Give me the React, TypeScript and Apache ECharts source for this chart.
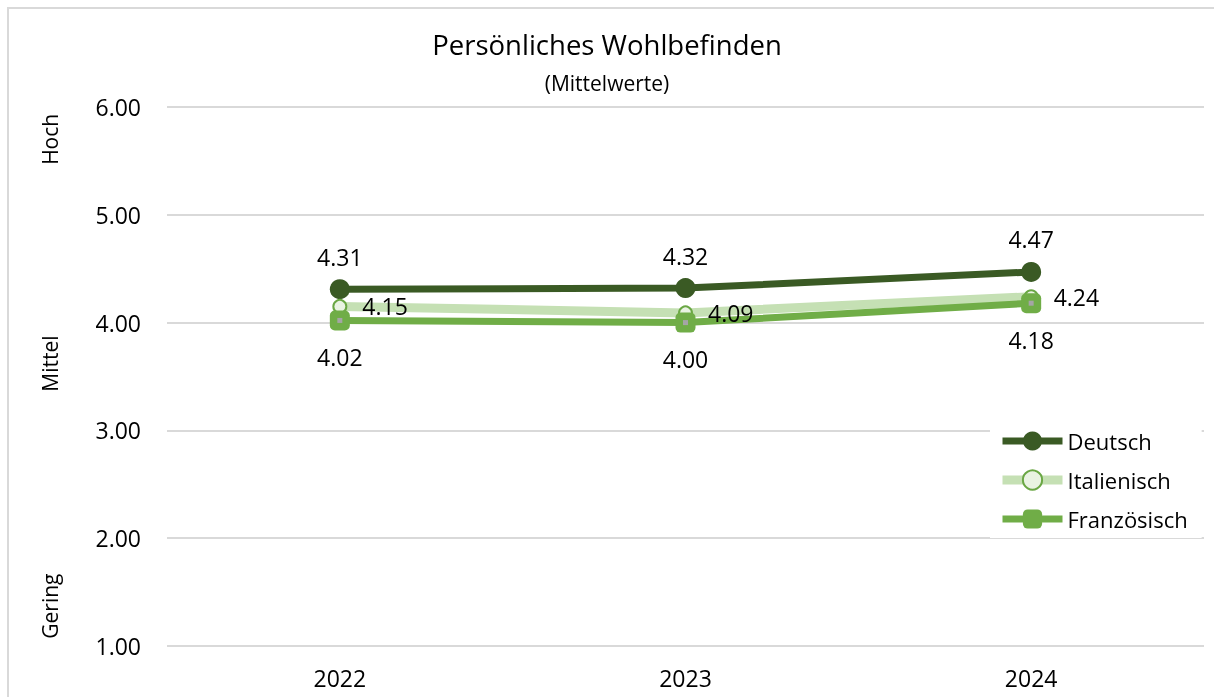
import React, { useEffect, useRef } from "react";
import * as echarts from "echarts";

const years = ["2022", "2023", "2024"];
const deutsch = [4.31, 4.32, 4.47];
const italienisch = [4.15, 4.09, 4.24];
const franzoesisch = [4.02, 4.0, 4.18];
const sideLabels = [
  { text: "Hoch", value: 5.7 },
  { text: "Mittel", value: 3.62 },
  { text: "Gering", value: 1.37 },
];

const FONT = "'Open Sans', sans-serif";

export default function App() {
  const ref = useRef<HTMLDivElement>(null);
  useEffect(() => {
    if (!ref.current) return;
    const chart = echarts.init(ref.current, null, { renderer: "svg" });
    const gridTop = 107;
    const gridBottomY = 646;
    const yMin = 1;
    const yMax = 6;
    const yToPx = (v: number) => gridBottomY - ((v - yMin) / (yMax - yMin)) * (gridBottomY - gridTop);
    const labelStyle = {
      fontSize: 23,
      color: "#000",
      fontFamily: FONT,
      formatter: (p: any) => p.value.toFixed(2),
    };
    chart.setOption({
      animation: false,
      textStyle: { fontFamily: FONT },
      graphic: [
        {
          type: "line",
          shape: { x1: 8, y1: 7, x2: 8, y2: 697 },
          style: { stroke: "#d9d9d9", lineWidth: 2 },
        },
        {
          type: "line",
          shape: { x1: 7, y1: 8, x2: 1214, y2: 8 },
          style: { stroke: "#d9d9d9", lineWidth: 2 },
        },
        {
          type: "text",
          left: "center",
          top: 30,
          style: { text: "Persönliches Wohlbefinden", font: `27.5px ${FONT}`, fill: "#000" },
        },
        {
          type: "text",
          left: "center",
          top: 72,
          style: { text: "(Mittelwerte)", font: `21px ${FONT}`, fill: "#000" },
        },
        ...sideLabels.map((s) => ({
          type: "text",
          x: 50,
          y: yToPx(s.value),
          rotation: Math.PI / 2,
          style: {
            text: s.text,
            font: `21px ${FONT}`,
            fill: "#000",
            align: "center",
            verticalAlign: "middle",
          },
        })),
      ],
      grid: { left: 167, right: 10, top: gridTop, bottom: 697 - gridBottomY, containLabel: false },
      legend: {
        orient: "vertical",
        left: 990,
        top: 422,
        padding: [8, 14, 8, 8],
        backgroundColor: "#fff",
        itemWidth: 60,
        itemHeight: 24,
        itemGap: 17,
        data: ["Deutsch", "Italienisch", "Französisch"],
        textStyle: { fontSize: 22, color: "#000", fontFamily: FONT },
        lineStyle: { width: "inherit" },
        itemStyle: { borderWidth: "inherit" },
      },
      xAxis: {
        type: "category",
        data: years,
        boundaryGap: true,
        axisLine: { show: false },
        axisTick: { show: false },
        splitLine: { show: false },
        axisLabel: { fontSize: 23, color: "#000", margin: 20, fontFamily: FONT },
      },
      yAxis: {
        type: "value",
        min: yMin,
        max: yMax,
        interval: 1,
        axisLine: { show: false },
        axisTick: { show: false },
        splitLine: { lineStyle: { color: "#d9d9d9", width: 2 } },
        axisLabel: {
          fontSize: 23,
          color: "#000",
          margin: 26,
          fontFamily: FONT,
          formatter: (v: number) => v.toFixed(2),
        },
      },
      series: [
        {
          name: "Deutsch",
          type: "line",
          data: deutsch,
          symbol: "circle",
          symbolSize: 20,
          lineStyle: { color: "#3a5a24", width: 7 },
          itemStyle: { color: "#3a5a24", borderWidth: 0 },
          label: { show: true, position: "top", distance: 11, ...labelStyle },
          z: 3,
        },
        {
          name: "Italienisch",
          type: "line",
          data: italienisch,
          symbol: "circle",
          symbolSize: 13,
          lineStyle: { color: "#c5e0b4", width: 9 },
          itemStyle: { color: "#e9f3e2", borderColor: "#6aa744", borderWidth: 2 },
          label: { show: true, position: "right", distance: 15, ...labelStyle },
          z: 3,
        },
        {
          name: "Französisch",
          type: "line",
          data: franzoesisch,
          symbol: "roundRect",
          symbolSize: 20,
          lineStyle: { color: "#70ad47", width: 7 },
          itemStyle: { color: "#70ad47", borderWidth: 0 },
          label: { show: true, position: "bottom", distance: 15, ...labelStyle },
          z: 3,
        },
        {
          name: "Französisch-Mitte",
          type: "line",
          data: franzoesisch,
          symbol: "rect",
          symbolSize: 5,
          lineStyle: { width: 0, opacity: 0 },
          itemStyle: { color: "#a5a5a5" },
          label: { show: false },
          silent: true,
          z: 3,
        },
      ],
    });
    return () => chart.dispose();
  }, []);
  return (
    <div
      ref={ref}
      style={{ position: "fixed", left: 0, top: 0, width: 1214, height: 697 }}
    />
  );
}
